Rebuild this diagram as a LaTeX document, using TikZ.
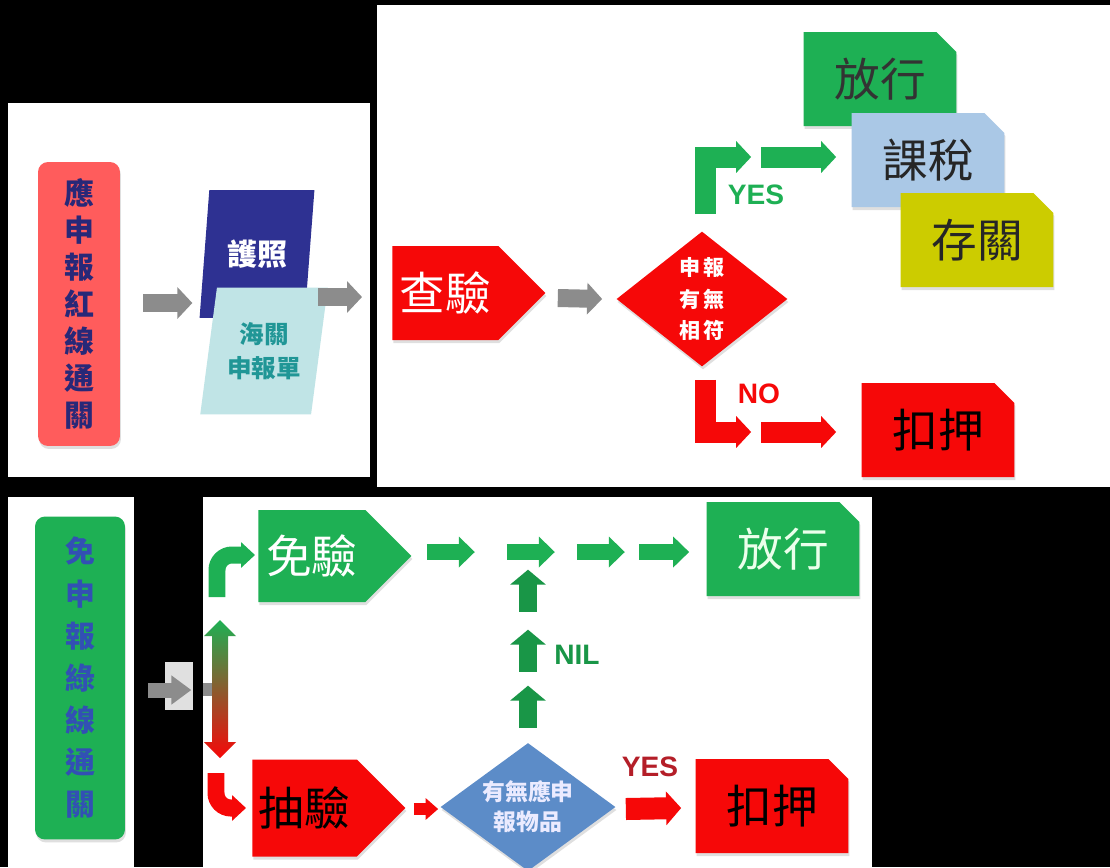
\documentclass[tikz,border=0pt]{standalone}
\usepackage{fontspec}
\setsansfont{Liberation Sans}
\newfontfamily\cjk{Noto Sans CJK TC}
\usetikzlibrary{arrows.meta, positioning, shapes.geometric, shapes.symbols, shapes.misc, shadows}

\definecolor{flowred}{RGB}{246,8,8}
\definecolor{flowgreen}{RGB}{30,176,84}
\definecolor{coral}{RGB}{255,92,92}
\definecolor{navy}{RGB}{46,49,146}
\definecolor{navytext}{RGB}{40,40,120}
\definecolor{paleteal}{RGB}{192,228,230}
\definecolor{tealtext}{RGB}{32,150,150}
\definecolor{taxblue}{RGB}{170,200,230}
\definecolor{olive}{RGB}{204,204,0}
\definecolor{steel}{RGB}{92,140,200}
\definecolor{vblue}{RGB}{50,80,180}
\definecolor{darkred}{RGB}{180,30,40}
\definecolor{blockgray}{RGB}{140,140,140}

\tikzset{
  shade drop/.style={drop shadow={shadow xshift=0.02cm, shadow yshift=-0.06cm, opacity=0.25}},
  vbox/.style={rounded corners=0.2cm, align=center, inner sep=0pt, shade drop,
    font=\cjk\bfseries\fontsize{17}{21}\selectfont},
  doc/.style={trapezium, trapezium stretches=true, align=center, inner sep=0pt,
    font=\cjk\bfseries},
  pointbox/.style={signal, signal to=east, signal pointer angle=90, inner sep=0pt,
    minimum width=3.06cm, minimum height=1.88cm, anchor=west, shade drop,
    font=\cjk\fontsize{26}{26}\selectfont},
  tagbox/.style={chamfered rectangle, chamfered rectangle corners=north east,
    chamfered rectangle xsep=0.2cm, chamfered rectangle ysep=0.2cm, inner sep=0pt,
    minimum width=3.06cm, minimum height=1.88cm, shade drop,
    font=\cjk\fontsize{26}{26}\selectfont},
  choice/.style={diamond, inner sep=0pt, align=center, shade drop,
    font=\cjk\bfseries\fontsize{12}{18}\selectfont},
  answer/.style={font=\sffamily\bfseries\fontsize{16}{16}\selectfont},
  grayblk/.style={draw=blockgray, line width=0.36cm, -{Triangle[length=0.3cm,width=0.62cm]}},
  bigblk/.style={line width=0.42cm, -{Triangle[length=0.3cm,width=0.62cm]}},
  rowblk/.style={draw=flowgreen, line width=0.32cm, -{Triangle[length=0.32cm,width=0.6cm]}},
  upblk/.style={draw=flowgreen!85!black, line width=0.36cm, -{Triangle[length=0.3cm,width=0.7cm]}},
  bendblk/.style={line width=0.34cm, rounded corners=0.3cm, -{Triangle[length=0.28cm,width=0.5cm]}},
}

\begin{document}
\begin{tikzpicture}[x=0.02cm, y=-0.02cm]
\useasboundingbox (0,0) rectangle (1110,867);
% panels
\fill[black] (0,0) rectangle (1110,867);
\fill[white] (8,103) rectangle (370,477);
\fill[white] (377,5) rectangle (1110,487);
\fill[white] (8,497) rectangle (134,867);
\fill[white] (203,497) rectangle (872,867);

% red line, upper half
\node[vbox, fill=coral, text=navytext, minimum width=1.64cm, minimum height=5.68cm] (redbox) at (79,304)
  {應\\申\\報\\紅\\線\\通\\關};
\node[doc, fill=navy, text=white, minimum width=2.3cm, minimum height=2.56cm,
  trapezium left angle=78, trapezium right angle=102, font=\cjk\bfseries\fontsize{17}{17}\selectfont] (passport) at (257,254) {護照};
\node[doc, fill=paleteal, text=tealtext, minimum width=2.56cm, minimum height=2.54cm,
  trapezium left angle=77, trapezium right angle=103, font=\cjk\bfseries\fontsize{14}{19}\selectfont] (declare) at (264,351)
  {海關\\申報單};
\node[pointbox, fill=flowred, text=white] (check) at (392,293) {查驗};
\node[choice, fill=flowred, text=white, minimum width=3.42cm, minimum height=2.7cm] (match) at (702,299)
  {申\,報\\有\,無\\相\,符};
\node[tagbox, fill=flowgreen, text=black!80] (pass) at (880,79) {放行};
\node[tagbox, fill=taxblue, text=black!85] (tax) at (928,160) {課稅};
\node[tagbox, fill=olive, text=black!85] (store) at (977,240) {存關};
\node[tagbox, fill=flowred, text=black] (seize) at (938,430) {扣押};
\node[answer, text=flowgreen] (yes) at (756,195) {YES};
\node[answer, text=flowred] (no) at (759,394) {NO};

\draw[grayblk] ([shift={(23,-1)}]redbox.east) -- ([shift={(72,-1)}]redbox.east);
\draw[grayblk] ([shift={(-74,4)}]check.west) -- ([shift={(-30,4)}]check.west);
\draw[grayblk] ([shift={(12,5)}]check.east) -- ([shift={(-14,0)}]match.west);
\draw[bigblk, draw=flowgreen] ([shift={(3,-17)}]match.north) |- ([shift={(-100,-3)}]tax.west);
\draw[bigblk, draw=flowgreen] ([shift={(-90,-3)}]tax.west) -- ([shift={(-15,-3)}]tax.west);
\draw[bigblk, draw=flowred] ([shift={(3,13)}]match.south) |- ([shift={(-110,2)}]seize.west);
\draw[bigblk, draw=flowred] ([shift={(-100,2)}]seize.west) -- ([shift={(-25,2)}]seize.west);

% green line, lower half
\node[vbox, fill=flowgreen, text=vblue, minimum width=1.8cm, minimum height=6.46cm,
  font=\cjk\bfseries\fontsize{17}{24}\selectfont] (greenbox) at (80,678)
  {免\\申\\報\\綠\\線\\通\\關};
\node[pointbox, fill=flowgreen, text=white, minimum height=1.84cm] (exempt) at (258,556) {免驗};
\node[pointbox, fill=flowred, text=black, minimum height=1.94cm] (sample) at (252,808) {抽驗};
\node[choice, fill=steel, text=white!92!blue, minimum width=3.5cm, minimum height=2.56cm, shape aspect=1.37,
  font=\cjk\bfseries\fontsize{13}{17}\selectfont] (goods) at (528,807)
  {有無應申\\報物品};
\node[tagbox, fill=flowgreen, text=white!92!green] (pass2) at (783,549) {放行};
\node[tagbox, fill=flowred, text=black] (seize2) at (772,806) {扣押};
\node[answer, text=flowgreen!85!black] (nil) at (577,655) {NIL};
\node[answer, text=darkred] (yes2) at (650,767) {YES};

\fill[black!12] (165,662) rectangle (193,710);
\draw[grayblk, line width=0.3cm, -{Triangle[length=0.4cm,width=0.56cm]}]
  ([shift={(23,12)}]greenbox.east) -- ([shift={(66,12)}]greenbox.east);
\fill[blockgray] (203,683) rectangle (222,696);
\shade[top color=flowgreen, bottom color=flowred]
  (212,636) -- (204,636) -- (220,620) -- (236,636) -- (228,636) -- (228,742)
  -- (236,742) -- (220,758) -- (204,742) -- (212,742) -- cycle;
\draw[bendblk, draw=flowgreen] ([shift={(-41,41)}]exempt.west) |- ([shift={(-3,-1)}]exempt.west);
\draw[bendblk, draw=flowred] ([shift={(-36,-35)}]sample.west) |- ([shift={(-6,0)}]sample.west);
\foreach \a in {15,95,165}
  \draw[rowblk] ([shift={(\a,-4)}]exempt.east) -- ([shift={(\a+48,-4)}]exempt.east);
\draw[rowblk] ([shift={(-67,3)}]pass2.west) -- ([shift={(-17,3)}]pass2.west);
\foreach \b in {15,71,131}
  \draw[upblk] ([shift={(0,-\b)}]goods.north) -- ([shift={(0,-\b-42)}]goods.north);
\draw[draw=flowred, line width=0.24cm, -{Triangle[length=0.25cm,width=0.42cm]}]
  ([shift={(8,1)}]sample.east) -- ([shift={(-2,2)}]goods.west);
\draw[bigblk, draw=flowred, line width=0.44cm, -{Triangle[length=0.3cm,width=0.66cm]}]
  ([shift={(10,2)}]goods.east) -- ([shift={(-14,2)}]seize2.west);
\end{tikzpicture}
\end{document}
